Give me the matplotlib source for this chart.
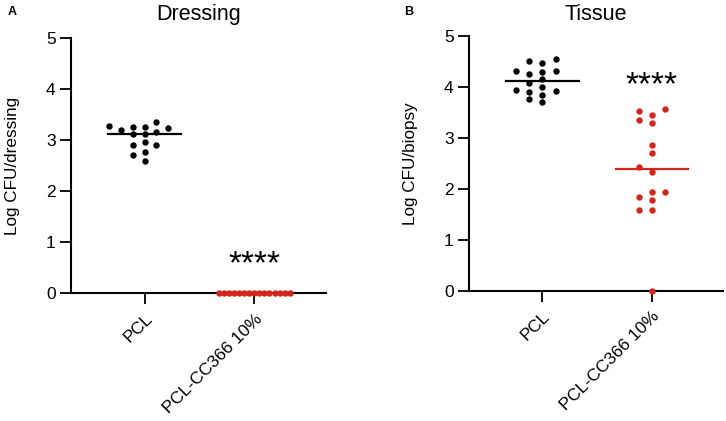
import numpy as np
import matplotlib.pyplot as plt

plt.rcParams['font.family'] = ['Liberation Sans', 'DejaVu Sans']

# categories and colours
groups = ["PCL", "PCL-CC366 10%"]
group_colors = ["black", "#d2261d"]

# Log CFU values
dressing_pcl = [3.28, 3.15, 3.23, 3.26, 3.26, 3.36, 3.20, 3.11, 3.11,
                2.90, 2.95, 2.90, 2.77, 2.70, 2.59]
dressing_cc366 = [0.0, 0.0, 0.0, 0.0, 0.0, 0.0, 0.0, 0.0, 0.0,
                  0.0, 0.0, 0.0, 0.0, 0.0, 0.0]
tissue_pcl = [4.26, 3.99, 3.84, 4.46, 4.29, 4.15, 3.91, 3.70,
              4.54, 4.31, 4.07, 3.94, 3.76, 4.51, 4.31, 3.90]
tissue_cc366 = [3.52, 3.34, 3.57, 3.29, 3.45, 2.85, 2.70, 2.43,
                2.33, 1.94, 1.94, 1.78, 1.84, 1.59, 1.59, 0.0]


def swarm_offsets(values, gap=0.14, step=0.12, max_half=0.32):
    # greedy column placement so that dots do not overlap
    vals = np.asarray(values, dtype=float)
    cols = np.zeros(len(vals), dtype=int)
    used = {}
    for i in np.argsort(vals, kind="stable"):
        k = 0
        while True:
            c = ((k + 1) // 2) * (-1 if k % 2 else 1)
            if all(abs(vals[i] - y) >= gap - 1e-9 for y in used.get(c, [])):
                break
            k += 1
        cols[i] = c
        used.setdefault(c, []).append(vals[i])
    widest = np.abs(cols).max()
    if widest > 0:
        step = min(step, max_half / widest)
    return cols * step


def draw_panel(ax, data, title, ylabel, star_y, title_pad):
    for i, (vals, col) in enumerate(zip(data, group_colors)):
        xs = i + swarm_offsets(vals)
        ax.plot(xs, vals, "o", color=col, ms=4.6, mec="none", clip_on=False, zorder=3)
        med = np.median(vals)
        ax.plot([i - 0.33, i + 0.33], [med, med], color=col, lw=1.6, zorder=2)
    ax.text(1, star_y, "****", ha="center", va="center", fontsize=24)
    ax.set_xlim(-0.67, 1.65)
    ax.set_ylim(0, 5)
    ax.set_yticks(range(6))
    ax.set_xticks(range(len(groups)))
    ax.set_xticklabels(groups, rotation=45, ha="right", rotation_mode="anchor")
    ax.spines["top"].set_visible(False)
    ax.spines["right"].set_visible(False)
    ax.spines["left"].set_linewidth(1.5)
    ax.spines["bottom"].set_linewidth(1.5)
    ax.tick_params(length=8, width=1.3, labelsize=12.5, pad=3)
    ax.tick_params(axis="x", pad=5)
    ax.set_title(title, fontsize=15.5, pad=title_pad)
    ax.set_ylabel(ylabel, fontsize=12.3, labelpad=19)


fig = plt.figure(figsize=(7.26, 4.21), dpi=100)
ax1 = fig.add_axes([0.0978, 0.304, 0.351, 0.606])
ax2 = fig.add_axes([0.646, 0.309, 0.350, 0.606])

draw_panel(ax1, [dressing_pcl, dressing_cc366], "Dressing", "Log CFU/dressing", 0.56, 13)
draw_panel(ax2, [tissue_pcl, tissue_cc366], "Tissue", "Log CFU/biopsy", 4.03, 11.5)

fig.text(0.011, 0.972, "A", fontsize=9, fontweight="bold", va="center")
fig.text(0.556, 0.972, "B", fontsize=9, fontweight="bold", va="center")

fig.savefig("out.png", dpi=100)
